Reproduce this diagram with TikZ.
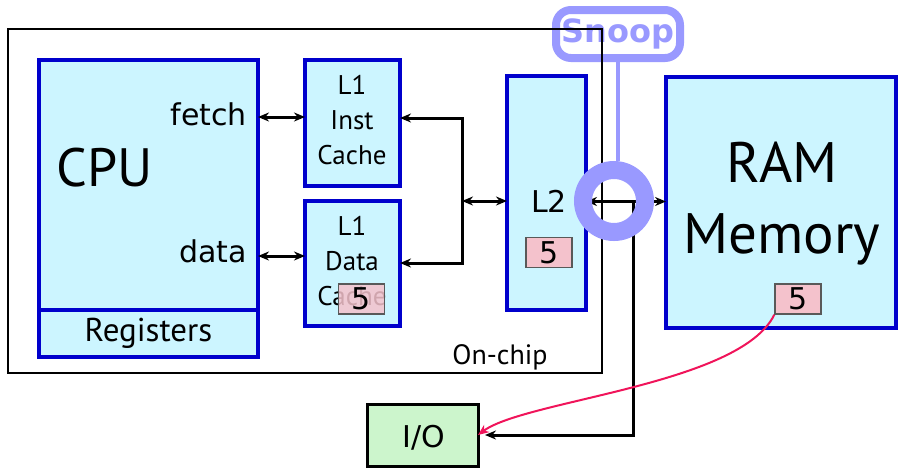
\documentclass[tikz,border=0pt]{standalone}
\usepackage{fontspec}
\setmainfont{PT Sans}
\newfontfamily\dv{DejaVu Sans}
\usetikzlibrary{arrows.meta}
\definecolor{boxblue}{HTML}{0000CC}
\definecolor{cyanfill}{HTML}{CCF5FF}
\definecolor{pinkfill}{HTML}{F4C2CC}
\definecolor{greenfill}{HTML}{CCF5CC}
\definecolor{lav}{HTML}{9999FF}
\definecolor{crim}{HTML}{F0145A}
\begin{document}
\begin{tikzpicture}[x=1pt,y=-1pt,
  unit/.style={draw=boxblue, fill=cyanfill, line width=3.5pt, inner sep=0pt, outer sep=0pt, anchor=north west},
  numbox/.style={draw=black!65, fill=pinkfill, line width=1.4pt, inner sep=0pt, minimum width=46pt, minimum height=30pt},
  dvtext/.style={font=\dv\fontsize{30}{34}\selectfont, inner sep=0pt},
  conn/.style={line width=3pt, {Stealth[length=11pt,width=9pt]}-{Stealth[length=11pt,width=9pt]}},
  oneway/.style={line width=3pt, -{Stealth[length=11pt,width=9pt]}}]
\useasboundingbox (0,0) rectangle (898,467);
% snoop box (behind chip outline)
\node[draw=lav, line width=8pt, rounded corners=15pt, fill=white, minimum width=124pt, minimum height=48pt, inner sep=0pt, text=lav, font=\dv\bfseries\fontsize{32}{34}\selectfont] (snoop) at (618,34) {Snoop};
% chip outline
\node[draw=black, line width=2.5pt, minimum width=594pt, minimum height=344pt, anchor=north west, inner sep=0pt, outer sep=0pt] (chip) at (8,29) {};
\node[font=\fontsize{28}{30}\selectfont, inner sep=0pt, anchor=base] (onchip) at (500,364) {On-chip};
% CPU
\node[unit, minimum width=219pt, minimum height=250pt] (cpu) at (39,60) {};
\node[unit, minimum width=219pt, minimum height=47pt, anchor=north west, font=\fontsize{33}{35}\selectfont] (regs) at (39,310) {\raisebox{-2pt}{Registers}};
\node[font=\fontsize{54}{56}\selectfont, inner sep=0pt, anchor=base] (cputxt) at (105,186) {CPU};
\node[dvtext, anchor=base east] (fetch) at (247,125) {fetch};
\node[dvtext, anchor=base east] (data) at (247,262) {data};
% L1 caches
\node[unit, minimum width=95pt, minimum height=126pt] (l1i) at (305,60) {};
\node[font=\fontsize{27}{35}\selectfont, align=center, inner sep=0pt] (l1itxt) at (352,120) {L1\\Inst\\Cache};
\node[unit, minimum width=95pt, minimum height=125pt] (l1d) at (305,201) {};
\node[font=\fontsize{27}{35}\selectfont, align=center, inner sep=0pt] (l1dtxt) at (352,261) {L1\\Data\\Cache};
\node[numbox, fill opacity=0.85, text opacity=1, dvtext] (n1) at (361.5,299) {5};
% L2
\node[unit, minimum width=79pt, minimum height=234pt] (l2) at (507,76) {};
\node[dvtext, anchor=base] (l2txt) at (549,212) {L2};
\node[numbox, dvtext] (n2) at (549,252.5) {5};
% RAM
\node[unit, minimum width=230pt, minimum height=251pt] (ram) at (666,77) {};
\node[font=\fontsize{57}{71}\selectfont, align=center, inner sep=0pt] (ramtxt) at (782,204) {RAM\\Memory};
\node[numbox, dvtext] (n3) at (798,299) {5};
% I/O
\node[draw=black, fill=greenfill, line width=3pt, minimum width=111pt, minimum height=62pt, inner sep=0pt, outer sep=0pt, anchor=north west] (io) at (367,404) {};
\node[dvtext, anchor=base] (iotxt) at (424,447) {I/O};
% connectors
\coordinate (fy) at (0,117);
\coordinate (dy) at (0,256);
\coordinate (bt) at (462,118);
\coordinate (bus) at (462,201);
\coordinate (bb) at (462,263);
\coordinate (tap) at (633,201.5);
\draw[conn] (cpu.east |- fy) -- (l1i.west |- fy);
\draw[conn] (cpu.east |- dy) -- (l1d.west |- dy);
\draw[conn] (l1i.east |- bt) -- (bt) -- (bb) -- (l1d.east |- bb);
\draw[conn] (bus) -- (l2.west |- bus);
\draw[conn] (l2.east |- tap) -- (ram.west |- tap);
\draw[oneway, shorten >=7pt] (tap) |- (io.east);
\draw[crim, line width=2pt, -{Stealth[length=11pt,width=9pt]}] (n3.south west) .. controls (740,385) and (525,400) .. (io.east);
% snoop ring and link
\node[circle, draw=lav, line width=18pt, minimum size=62pt, inner sep=0pt] (ring) at (614,201) {};
\draw[lav, line width=3.5pt] (snoop.south) -- (snoop.south |- ring.north);
\end{tikzpicture}
\end{document}
